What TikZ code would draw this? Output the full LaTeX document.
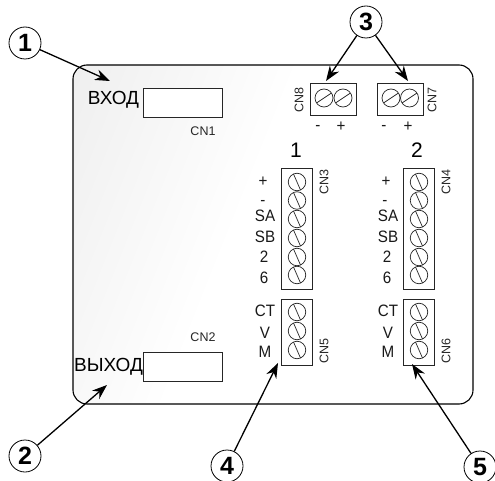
\documentclass[tikz,border=0pt]{standalone}
\usepackage{fontspec}
\setmainfont{Liberation Sans}
\newfontfamily\pinfont[FakeStretch=0.92]{Liberation Sans}
\usepackage{tikz}
\usetikzlibrary{arrows.meta}
\tikzset{
	numero/.style={circle,draw,line width=0.8pt,fill=white,minimum size=32,inner sep=0,font=\fontsize{25}{25}\selectfont\bfseries},
	flecha/.style={-{Stealth[length=15pt,width=11pt]},line width=1.3pt},
	conector/.style={draw=black!85,line width=0.8pt,fill=white,inner sep=0},
	tornillov/.style={circle,draw=black!85,line width=0.7pt,minimum size=17.5,inner sep=0,path picture={\draw[line width=0.7pt] ([shift={(-3.5,-8)}]path picture bounding box.center) -- ([shift={(3.5,8)}]path picture bounding box.center);}},
	tornilloh/.style={circle,draw=black!85,line width=0.7pt,minimum size=18,inner sep=0,path picture={\draw[line width=0.7pt] ([shift={(-7.5,5)}]path picture bounding box.center) -- ([shift={(7.5,-5)}]path picture bounding box.center);}},
	pin/.style={font=\pinfont\fontsize{16.5}{16.5}\selectfont,inner sep=0,text=black!90},
	rotulo/.style={font=\fontsize{19}{19}\selectfont,inner sep=0},
	cifra/.style={font=\fontsize{21}{21}\selectfont,inner sep=0},
	cn/.style={font=\fontsize{12.5}{12.5}\selectfont,inner sep=0,text=black!85},
	cnv/.style={cn,rotate=90}
}
\begin{document}
\begin{tikzpicture}[x=1pt,y=-1pt]
	\useasboundingbox (0,0) rectangle (495,481);
	% Panel
	\begin{scope}
		\clip[rounded corners=14] (73,65) rectangle (473,404);
		\shade[transform canvas={rotate around={-21.7:(300,65)}},left color=black!7,right color=white] (70,-200) rectangle (300,700);
	\end{scope}
	\draw[line width=1.1pt,rounded corners=14] (73,65) rectangle (473,404);

	% Entrada y salida
	\node[conector,minimum width=79,minimum height=29] (cn1) at (183,102.5) {};
	\node[conector,minimum width=79,minimum height=29] (cn2) at (183,366.5) {};
	\node[rotulo] (entrada) at (113.5,100) {ВХОД};
	\node[rotulo] (salida) at (108.5,367) {ВЫХОД};
	\node[cn] (tcn1) at (203,131) {CN1};
	\node[cn] (tcn2) at (203,337) {CN2};

	% Conectores de arriba
	\node[conector,minimum width=46,minimum height=32] (cn8) at (333,99) {};
	\node[conector,minimum width=46,minimum height=32] (cn7) at (400,99) {};
	\node[tornilloh] (s81) at (324,98) {};
	\node[tornilloh] (s82) at (343,98) {};
	\node[tornilloh] (s71) at (391,98) {};
	\node[tornilloh] (s72) at (409.5,98) {};
	\node[cnv] (tcn8) at (299,100) {CN8};
	\node[cnv] (tcn7) at (432,100) {CN7};
	\node[pin] (m8) at (318,128) {-};
	\node[pin] (p8) at (341,127) {+};
	\node[pin] (m7) at (384,128) {-};
	\node[pin] (p7) at (408,127) {+};

	% Grupo 1
	\node[cifra] (uno) at (296,150) {1};
	\node[conector,minimum width=31,minimum height=121] (cn3) at (296.5,228.5) {};
	\node[conector,minimum width=31,minimum height=66] (cn5) at (296.5,332) {};
	\node[tornillov] (s31) at (297,182) {};
	\node[tornillov] (s32) at (297,200.5) {};
	\node[tornillov] (s33) at (297,219) {};
	\node[tornillov] (s34) at (297,238) {};
	\node[tornillov] (s35) at (297,257) {};
	\node[tornillov] (s36) at (297,275) {};
	\node[tornillov] (s51) at (297,312) {};
	\node[tornillov] (s52) at (297,331) {};
	\node[tornillov] (s53) at (297,350) {};
	\node[cnv] (tcn3) at (324,182) {CN3};
	\node[cnv] (tcn5) at (324,351) {CN5};
	\node[pin] (a1) at (263,182) {+};
	\node[pin] (a2) at (263,203) {-};
	\node[pin] (a3) at (265,216) {SA};
	\node[pin] (a4) at (265,237) {SB};
	\node[pin] (a5) at (264,257) {2};
	\node[pin] (a6) at (264,278) {6};
	\node[pin] (a7) at (265,311) {CT};
	\node[pin] (a8) at (265,333) {V};
	\node[pin] (a9) at (265,352) {M};

	% Grupo 2
	\node[cifra] (dos) at (417,150) {2};
	\node[conector,minimum width=31,minimum height=121] (cn4) at (418.5,228.5) {};
	\node[conector,minimum width=31,minimum height=66] (cn6) at (418.5,332) {};
	\node[tornillov] (s41) at (419,182) {};
	\node[tornillov] (s42) at (419,200.5) {};
	\node[tornillov] (s43) at (419,219) {};
	\node[tornillov] (s44) at (419,238) {};
	\node[tornillov] (s45) at (419,257) {};
	\node[tornillov] (s46) at (419,275) {};
	\node[tornillov] (s61) at (419,312) {};
	\node[tornillov] (s62) at (419,331) {};
	\node[tornillov] (s63) at (419,350) {};
	\node[cnv] (tcn4) at (446,182) {CN4};
	\node[cnv] (tcn6) at (446,351) {CN6};
	\node[pin] (b1) at (386,182) {+};
	\node[pin] (b2) at (385,203) {-};
	\node[pin] (b3) at (388,216) {SA};
	\node[pin] (b4) at (388,237) {SB};
	\node[pin] (b5) at (387,257) {2};
	\node[pin] (b6) at (387,278) {6};
	\node[pin] (b7) at (388,311) {CT};
	\node[pin] (b8) at (388,333) {V};
	\node[pin] (b9) at (388,352) {M};

	% Numeros
	\node[numero] (n1) at (25,43) {1};
	\node[numero] (n2) at (25,456) {2};
	\node[numero] (n3) at (366,22) {3};
	\node[numero] (n4) at (227,466) {4};
	\node[numero] (n5) at (480,467) {5};

	% Flechas
	\coordinate (f1) at (110,81);
	\coordinate (f2) at (107,385);
	\coordinate (f3a) at (326,81);
	\coordinate (f3b) at (408,81);
	\coordinate (f4) at (278,363);
	\coordinate (f5) at (412,364);
	\draw[flecha] (n1) -- (f1);
	\draw[flecha] (n2) -- (f2);
	\draw[flecha] (n3) -- (f3a);
	\draw[flecha] (n3) -- (f3b);
	\draw[flecha] (n4) -- (f4);
	\draw[flecha] (n5) -- (f5);
\end{tikzpicture}
\end{document}
